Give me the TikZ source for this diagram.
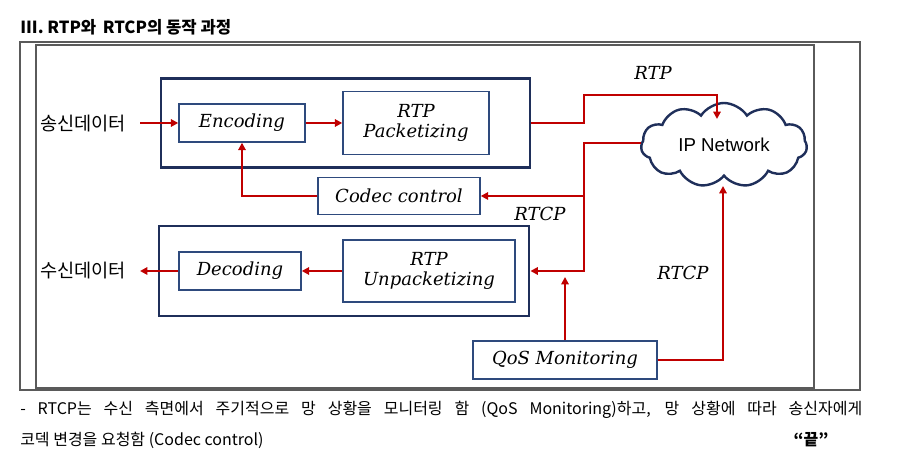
\documentclass[tikz,border=0pt]{standalone}
\usepackage{fontspec}
\usetikzlibrary{shapes.symbols,arrows.meta}
\newfontfamily\kr{Noto Sans CJK KR}
\newfontfamily\lab{DejaVu Serif}
\definecolor{navy}{HTML}{1F2F5A}
\definecolor{boxc}{HTML}{2E4A7D}
\definecolor{arrred}{HTML}{C00000}
\definecolor{frame}{HTML}{5A5A5A}
\begin{document}
\begin{tikzpicture}[x=0.75pt,y=-0.75pt,
  group/.style 2 args={draw=navy,line width=2.2pt,inner sep=0pt,minimum width={#1*0.75pt},minimum height={#2*0.75pt}},
  box/.style 2 args={draw=boxc,line width=1.1pt,inner sep=0pt,minimum width={#1*0.75pt},minimum height={#2*0.75pt},font=\lab\itshape\fontsize{13.5}{15}\selectfont,align=center},
  arr/.style={draw=arrred,line width=1.4pt,-{Triangle[length=5.5pt,width=5.5pt]}},
  lbl/.style={font=\lab\itshape\fontsize{13.5}{15}\selectfont,inner sep=0pt},
  kor/.style={font=\kr\fontsize{12}{14}\selectfont,inner sep=0pt},
  side/.style={font=\kr\fontsize{14}{16}\selectfont,inner sep=0pt}]
\useasboundingbox (0,0) rectangle (904,473);
\fill[white] (0,0) rectangle (904,473);
% title
\node[anchor=west,inner sep=0pt,font=\kr\bfseries\fontsize{12.5}{14}\selectfont] (title) at (20,27) {III. RTP와 \,RTCP의 동작 과정};
% frames
\draw[frame,line width=0.8pt] (20,42) rectangle (860,390);
\draw[frame,line width=1.3pt] (36,45) rectangle (814,388);
% groups
\node[group={369}{89}] (upper) at (345.5,123) {};
\node[group={370}{90}] (lower) at (344,271) {};
% boxes
\node[box={126}{38}] (enc) at (242,123) {Encoding};
\node[box={146}{63}] (pack) at (416,123) {RTP\\Packetizing};
\node[box={162}{37}] (codec) at (399,196) {Codec control};
\node[box={122}{38}] (dec) at (240,271) {Decoding};
\node[box={172}{62}] (unpack) at (429,271) {RTP\\Unpacketizing};
\node[box={184}{38}] (qos) at (565,360) {QoS Monitoring};
\node[cloud,cloud puffs=11,cloud puff arc=115,aspect=2,draw=navy,line width=1.8pt,inner sep=0pt,minimum width={166*0.75pt},minimum height={84*0.75pt},font=\fontspec{Liberation Sans}\fontsize{14}{16}\selectfont] (cloud) at (724,145) {IP Network};
% side labels
\node[side,anchor=west] (send) at (40,124) {송신데이터};
\node[side,anchor=west] (recv) at (40,271) {수신데이터};
\coordinate (sendS) at (140,123);
\coordinate (recvE) at (140,271);
% labels
\node[lbl] (lrtp) at (653,73) {RTP};
\node[lbl] (lrtcp1) at (540,214) {RTCP};
\node[lbl] (lrtcp2) at (683,273) {RTCP};
% arrows
\draw[arr] (sendS) -- (enc.west);
\draw[arr] (enc.east) -- (pack.west);
\coordinate (cloudTop) at (717,119);
\coordinate (cloudLeft) at (641,143);
\coordinate (cloudBot) at (723,186);
\draw[arr] (upper.east) -- (584,123) -- (584,95) -| (cloudTop);
\draw[arr] (cloudLeft) -- (584,143) |- (codec.east);
\draw[arr] (584,194) |- (lower.east);
\draw[arr] (codec.west) -| (enc.south);
\draw[arr] (qos.north) -- (565,277);
\draw[arr] (qos.east) -| (cloudBot);
\draw[arr] (unpack.west) -- (dec.east);
\draw[arr] (dec.west) -- (recvE);
% bottom text
\node[kor,anchor=west] (t1) at (20,410) {\makebox[631.5pt][s]{- RTCP는 수신 측면에서 주기적으로 망 상황을 모니터링 함 (QoS Monitoring)하고, 망 상황에 따라 송신자에게}};
\node[kor,anchor=west] (t2) at (20,440) {코덱 변경을 요청함 (Codec control)};
\node[kor,font=\kr\bfseries\fontsize{12}{14}\selectfont] (end) at (811,440) {“끝”};
\end{tikzpicture}
\end{document}
